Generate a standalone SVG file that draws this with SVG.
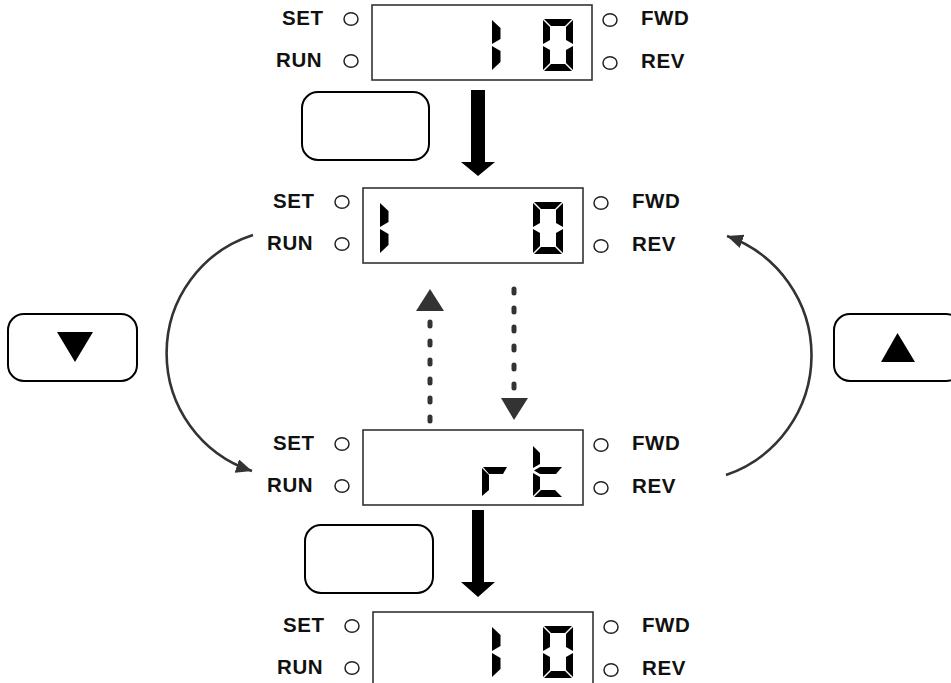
<svg xmlns="http://www.w3.org/2000/svg" xmlns:xlink="http://www.w3.org/1999/xlink" width="951" height="683" viewBox="0 0 951 683">
<style>
.box{fill:#fff;stroke:#333;stroke-width:1.6}
.led{fill:#fff;stroke:#222;stroke-width:1.5}
.lbl{font-family:"Liberation Sans",Arial,sans-serif;font-weight:bold;font-size:20.5px;letter-spacing:0.6px;fill:#111}
.seg{fill:#000}
.btn{fill:#fff;stroke:#000;stroke-width:2}
.big{fill:#000}
.dot{fill:none;stroke:#333;stroke-width:5;stroke-linecap:round;stroke-dasharray:4 15}
.arc{fill:none;stroke:#333;stroke-width:2.6}
.tri{fill:#333}
</style>
<defs>
<marker id="ah" markerUnits="userSpaceOnUse" markerWidth="20" markerHeight="20" refX="16" refY="7" orient="auto">
<path d="M0,0 L16,7 L0,14 Z" fill="#333"/>
</marker>
<g id="d0" class="seg">
<polygon points="1,0 29,0 22,7 8,7"/>
<polygon points="0,1 7,8 7,21 0,25"/>
<polygon points="30,1 30,25 23,21 23,8"/>
<polygon points="0,27 7,31 7,44 0,51"/>
<polygon points="30,27 30,51 23,44 23,31"/>
<polygon points="1,52 8,45 22,45 29,52"/>
</g>
<g id="d1" class="seg">
<polygon points="0,1 8.5,9 8.5,20 0,25"/>
<polygon points="0,27 8.5,32 8.5,43 0,51"/>
</g>
<g id="dr" class="seg">
<polygon points="1,22 25,22 21,29 7,29"/>
<polygon points="0,23 7,30 7,45 0,51"/>
</g>
<g id="dt" class="seg">
<polygon points="0,1 7,8 7,19 0,23"/>
<polygon points="1,25.5 7,22 29,22 23,29 7,29"/>
<polygon points="0,28 7,32 7,44 0,51"/>
<polygon points="1,52 8,45 22,45 29,52"/>
</g>
<g id="frame">
<rect class="box" x="0" y="0" width="220" height="75"/>
<ellipse class="led" cx="-21" cy="14" rx="7" ry="6.3"/>
<ellipse class="led" cx="-21" cy="56" rx="7" ry="6.3"/>
<ellipse class="led" cx="238" cy="15" rx="7" ry="6.3"/>
<ellipse class="led" cx="238" cy="58" rx="7" ry="6.3"/>
<text class="lbl" x="-90" y="20">SET</text>
<text class="lbl" x="-96" y="62">RUN</text>
<text class="lbl" x="269" y="20">FWD</text>
<text class="lbl" x="269" y="63">REV</text>
</g>
</defs>

<g id="connectors">
<path class="big" d="M471,90 H485 V162 H495 L478,176 L461,162 H471 Z"/>
<path class="big" d="M472,510 H484 V582 H495 L478,597 L461,582 H472 Z"/>
<line class="dot" x1="430" y1="421" x2="430" y2="314"/>
<polygon class="tri" points="416,311 444,311 430,289"/>
<line class="dot" x1="514" y1="289" x2="514" y2="396"/>
<polygon class="tri" points="501,398 528,398 514,420"/>
<path class="arc" d="M253,235 A124,124 0 0 0 252,471" marker-end="url(#ah)"/>
<path class="arc" d="M726,475 A126.5,126.5 0 0 0 727,236" marker-end="url(#ah)"/>
</g>

<g id="display-top" transform="translate(372,5)">
<use xlink:href="#frame"/>
<use xlink:href="#d1" x="120" y="14"/>
<use xlink:href="#d0" x="171" y="14"/>
</g>
<g id="display-mid" transform="translate(363,188)">
<use xlink:href="#frame"/>
<use xlink:href="#d1" x="17" y="14"/>
<use xlink:href="#d0" x="170" y="14"/>
</g>
<g id="display-low" transform="translate(363,430)">
<use xlink:href="#frame"/>
<use xlink:href="#dr" x="119" y="15"/>
<use xlink:href="#dt" x="170" y="15"/>
</g>
<g id="display-bottom" transform="translate(373,612)">
<use xlink:href="#frame"/>
<use xlink:href="#d1" x="119" y="14"/>
<use xlink:href="#d0" x="170" y="14"/>
</g>

<g id="button-top"><rect class="btn" x="302" y="92" width="127" height="68" rx="16"/></g>
<g id="button-bottom"><rect class="btn" x="305" y="525" width="128" height="68" rx="16"/></g>
<g id="button-down">
<rect class="btn" x="8" y="314" width="129" height="67" rx="16"/>
<polygon class="big" points="57,332 93,332 75,362"/>
</g>
<g id="button-up">
<rect class="btn" x="834" y="314" width="128" height="67" rx="16"/>
<polygon class="big" points="881,362 915,362 897.5,333"/>
</g>
</svg>
